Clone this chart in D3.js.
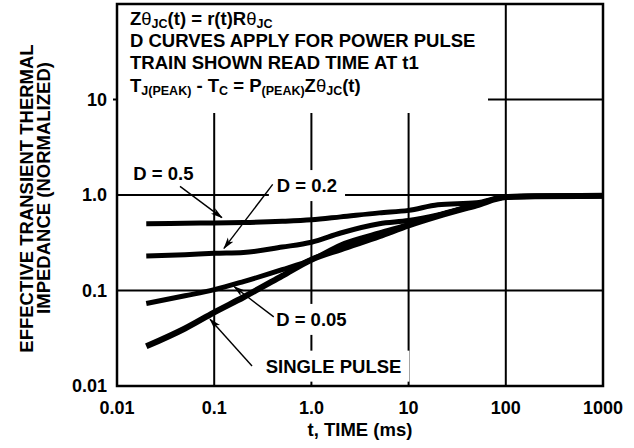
<!DOCTYPE html>
<html>
<head>
<meta charset="utf-8">
<script src="https://cdn.jsdelivr.net/npm/d3@7"></script>
<style>
  html, body { margin: 0; padding: 0; background: #fff; }
  svg text { font-family: "Liberation Sans", Arial, Helvetica, sans-serif; font-weight: bold; fill: #000; }
</style>
</head>
<body>
<svg id="chart" width="634" height="448"></svg>
<script>
// ---- data ----
const xTicks = [0.01, 0.1, 1, 10, 100, 1000];
const xTickLabels = ["0.01", "0.1", "1.0", "10", "100", "1000"];
const yTicks = [0.01, 0.1, 1, 10];
const yTickLabels = ["0.01", "0.1", "1.0", "10"];

const time = [0.02, 0.05, 0.1, 0.2, 0.5, 1, 2, 5, 10, 20, 50, 100, 200, 1000];
const zD05    = [0.50, 0.505, 0.51, 0.515, 0.53, 0.55, 0.59, 0.65, 0.69, 0.79, 0.83, 0.96, 0.97, 0.98];
const zD02    = [0.23, 0.237, 0.245, 0.25, 0.285, 0.32, 0.40, 0.50, 0.54, 0.62, 0.80, 0.95, 0.97, 0.98];
const zD005   = [0.073, 0.088, 0.102, 0.124, 0.165, 0.21, 0.30, 0.40, 0.49, 0.61, 0.79, 0.95, 0.97, 0.98];
const zSingle = [0.026, 0.040, 0.059, 0.085, 0.142, 0.21, 0.27, 0.37, 0.48, 0.60, 0.78, 0.95, 0.97, 0.98];
const seriesNames = ["D = 0.5", "D = 0.2", "D = 0.05", "SINGLE PULSE"];
const seriesValues = [zD05, zD02, zD005, zSingle];

// curve labels: label centre and arrow tail/head in data units (t, Z)
const labelPos   = [[0.030, 1.68], [0.90, 1.26], [1.0, 0.050], [1.69, 0.0162]];
const arrowTail  = [[0.0445, 1.23], [0.40, 1.29], [0.41, 0.053], [0.245, 0.0162]];
const arrowHead  = [[0.12, 0.58], [0.126, 0.276], [0.16, 0.11], [0.0906, 0.050]];

const noteLines = [
  [["Z", 0], ["θ", 0, "n"], ["JC", 1], ["(t) = r(t)R", 0], ["θ", 0, "n"], ["JC", 1]],
  [["D CURVES APPLY FOR POWER PULSE", 0]],
  [["TRAIN SHOWN READ TIME AT t1", 0]],
  [["T", 0], ["J(PEAK)", 1], [" - T", 0], ["C", 1], [" = P", 0], ["(PEAK)", 1], ["Z", 0], ["θ", 0, "n"], ["JC", 1], ["(t)", 0]]
];

// ---- layout ----
const W = 634, H = 448;
const margin = { left: 117, right: 31, top: 4, bottom: 62 };
const svg = d3.select("#chart");
const x = d3.scaleLog().domain([0.01, 1000]).range([margin.left, W - margin.right]);
const y = d3.scaleLog().domain([0.01, 100]).range([H - margin.bottom, margin.top]);
const FS = 18.5;

const g = svg.append("g");

// grid lines
g.selectAll("line.vg").data(xTicks.slice(1, -1)).enter().append("line")
  .attr("x1", d => x(d)).attr("x2", d => x(d))
  .attr("y1", y(100)).attr("y2", y(0.01))
  .attr("stroke", "#000").attr("stroke-width", 2);
g.selectAll("line.hg").data(yTicks.slice(1)).enter().append("line")
  .attr("x1", x(0.01)).attr("x2", x(1000))
  .attr("y1", d => y(d)).attr("y2", d => y(d))
  .attr("stroke", "#000").attr("stroke-width", 2);
// small tick at 10
g.append("line").attr("x1", x(0.01) - 4).attr("x2", x(0.01))
  .attr("y1", y(10)).attr("y2", y(10)).attr("stroke", "#000").attr("stroke-width", 2);

// note box (white) covering grid
g.append("rect")
  .attr("x", x(0.01) + 1).attr("y", y(100) + 1)
  .attr("width", 370).attr("height", 108)
  .attr("fill", "#fff");

// label backgrounds + labels
const labelsG = svg.append("g");
const labelTexts = labelsG.selectAll("text").data(seriesNames).enter().append("text")
  .attr("x", (d, i) => x(labelPos[i][0]))
  .attr("y", (d, i) => y(labelPos[i][1]))
  .attr("text-anchor", "middle")
  .attr("dy", "0.36em")
  .attr("font-size", FS)
  .text(d => d);
labelTexts.each(function () {
  const b = this.getBBox();
  labelsG.insert("rect", "text")
    .attr("x", b.x - 8).attr("y", b.y - 5)
    .attr("width", b.width + 16).attr("height", b.height + 10)
    .attr("fill", "#fff");
});

// curves
const line = d3.line()
  .x(d => x(d[0])).y(d => y(d[1]))
  .curve(d3.curveMonotoneX);
const widths = [5, 5, 5, 6];
svg.append("g").selectAll("path").data(seriesValues).enter().append("path")
  .attr("d", vals => line(time.map((t, i) => [t, vals[i]])))
  .attr("fill", "none").attr("stroke", "#000")
  .attr("stroke-width", (d, i) => widths[i])
  .attr("stroke-linejoin", "round");

// arrows
svg.append("defs").append("marker")
  .attr("id", "ah").attr("viewBox", "0 0 12 8")
  .attr("refX", 11).attr("refY", 4)
  .attr("markerWidth", 12).attr("markerHeight", 8)
  .attr("markerUnits", "userSpaceOnUse")
  .attr("orient", "auto")
  .append("path").attr("d", "M0,0.5 L12,4 L0,7.5 L3,4 Z").attr("fill", "#000");
svg.append("g").selectAll("line").data(arrowTail).enter().append("line")
  .attr("x1", d => x(d[0])).attr("y1", d => y(d[1]))
  .attr("x2", (d, i) => x(arrowHead[i][0])).attr("y2", (d, i) => y(arrowHead[i][1]))
  .attr("stroke", "#000").attr("stroke-width", 1.4)
  .attr("marker-end", "url(#ah)");

// frame
svg.append("rect")
  .attr("x", x(0.01)).attr("y", y(100))
  .attr("width", x(1000) - x(0.01)).attr("height", y(0.01) - y(100))
  .attr("fill", "none").attr("stroke", "#000").attr("stroke-width", 2.5);

// note text
const baselines = [25, 47, 69, 92];
noteLines.forEach((parts, li) => {
  const t = svg.append("text")
    .attr("x", x(0.01) + 13).attr("y", baselines[li])
    .attr("font-size", FS);
  let prevSub = 0;
  parts.forEach(p => {
    const sub = p[1];
    const ts = t.append("tspan").text(p[0]);
    if (sub !== prevSub) ts.attr("dy", sub ? 2.8 : -2.8);
    if (sub) ts.attr("font-size", 12.5);
    if (p[2] === "n") ts.attr("font-weight", "normal");
    prevSub = sub;
  });
});

// tick labels
svg.append("g").selectAll("text").data(xTicks).enter().append("text")
  .attr("x", d => x(d)).attr("y", 414)
  .attr("text-anchor", "middle").attr("font-size", 18)
  .text((d, i) => xTickLabels[i]);
svg.append("g").selectAll("text").data(yTicks).enter().append("text")
  .attr("x", 107).attr("y", d => y(d))
  .attr("dy", "0.36em")
  .attr("text-anchor", "end").attr("font-size", 18)
  .text((d, i) => yTickLabels[i]);

// axis titles
svg.append("text")
  .attr("x", 360).attr("y", 436)
  .attr("text-anchor", "middle").attr("font-size", FS)
  .text("t, TIME (ms)");
svg.append("text")
  .attr("transform", "translate(33,198.5) rotate(-90)")
  .attr("text-anchor", "middle").attr("font-size", FS)
  .text("EFFECTIVE TRANSIENT THERMAL");
svg.append("text")
  .attr("transform", "translate(50,188) rotate(-90)")
  .attr("text-anchor", "middle").attr("font-size", FS)
  .text("IMPEDANCE (NORMALIZED)");
</script>
</body>
</html>
